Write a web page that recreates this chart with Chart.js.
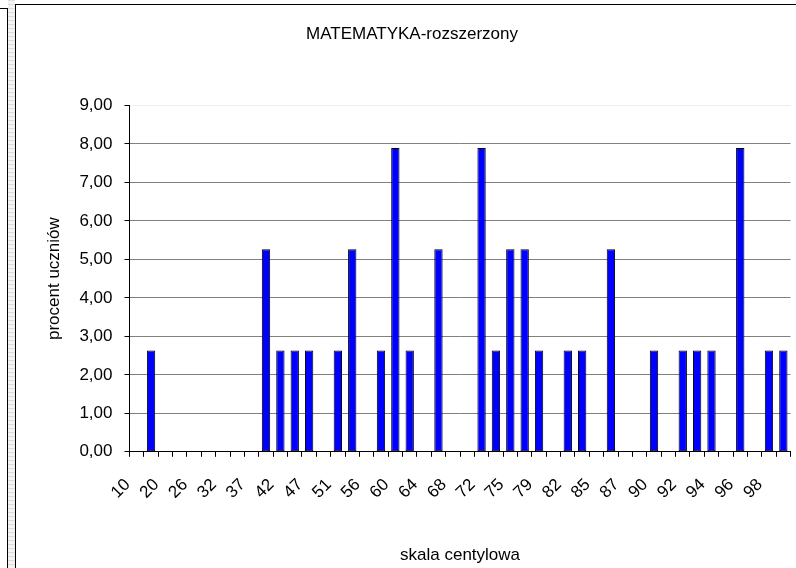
<!DOCTYPE html>
<html>
<head>
<meta charset="utf-8">
<script src="https://cdn.jsdelivr.net/npm/chart.js@4"></script>
<style>
  html, body { margin: 0; padding: 0; background: #fff; overflow: hidden; width: 796px; height: 568px; }
  #edge { position: absolute; left: 0; top: 8px; width: 7px; height: 600px; border-top: 1px solid #000; border-right: 1px solid #000; }
  #strip { position: absolute; left: 8px; top: 0; width: 7px; height: 568px;
    background: repeating-linear-gradient(#dcdcdc 0 1px, #f3f3f3 1px 4px); }
  #frame { position: absolute; left: 15px; top: 4px; width: 820px; height: 620px; border: 1px solid #000; }
  #chart { position: absolute; left: 16px; top: 5px; }
</style>
</head>
<body>
<div id="edge"></div>
<div id="strip"></div>
<div id="frame"></div>
<canvas id="chart" width="800" height="563"></canvas>
<script>
// centile scale, only every other one is printed on the axis
const centyle = ['10', '15', '20', '23', '26', '29', '32', '35', '37', '40',
                 '42', '45', '47', '49', '51', '53', '56', '58', '60', '62',
                 '64', '66', '68', '70', '72', '74', '75', '77', '79', '81',
                 '82', '84', '85', '86', '87', '89', '90', '91', '92', '93',
                 '94', '95', '96', '97', '98', '99'];

// percent of students in each centile
const procent = [0, 2.63, 0, 0, 0, 0, 0, 0, 0, 5.26,
                 2.63, 2.63, 2.63, 0, 2.63, 5.26, 0, 2.63, 7.89, 2.63,
                 0, 5.26, 0, 0, 7.89, 2.63, 5.26, 5.26, 2.63, 0,
                 2.63, 2.63, 0, 5.26, 0, 0, 2.63, 0, 2.63, 2.63,
                 2.63, 0, 7.89, 0, 2.63, 2.63];

const yTicks = [0, 1, 2, 3, 4, 5, 6, 7, 8, 9];

const font = { family: '"Liberation Sans", Arial, sans-serif', size: 17 };

new Chart(document.getElementById('chart'), {
  type: 'bar',
  data: {
    labels: centyle,
    datasets: [{
      data: procent,
      backgroundColor: '#0000ff',
      borderColor: '#000000',
      borderWidth: 1,
      borderSkipped: false,
      categoryPercentage: 1,
      barPercentage: 0.58
    }]
  },
  options: {
    responsive: false,
    animation: false,
    devicePixelRatio: 1,
    layout: { padding: { left: 12, right: 20, top: 0, bottom: 0 } },
    plugins: {
      legend: { display: false },
      tooltip: { enabled: false },
      title: {
        display: true,
        text: 'MATEMATYKA-rozszerzony',
        color: '#000',
        font: { ...font, weight: 'normal' },
        padding: { top: 19, bottom: 61 }
      }
    },
    scales: {
      x: {
        offset: true,
        grid: { display: true, drawOnChartArea: false, drawTicks: true, tickLength: 5, tickColor: '#000', offset: true },
        border: { display: true, color: '#000', width: 1 },
        ticks: {
          autoSkip: false,
          minRotation: 45,
          maxRotation: 45,
          padding: 18,
          labelOffset: -9,
          color: '#000',
          font: font,
          callback: (value, index) => index % 2 === 0 ? centyle[index] : ''
        },
        title: {
          display: true,
          text: 'skala centylowa',
          color: '#000',
          font: font,
          padding: { top: 25, bottom: 2 }
        }
      },
      y: {
        min: 0,
        max: 9,
        afterBuildTicks: (axis) => { axis.ticks = yTicks.map(v => ({ value: v })); },
        grid: {
          color: (ctx) => ctx.tick && ctx.tick.value === 9 ? '#eeeeee' : '#808080',
          lineWidth: 1,
          tickLength: 5,
          tickColor: '#000'
        },
        border: { display: true, color: '#000', width: 1 },
        ticks: {
          padding: 12,
          color: '#000',
          font: font,
          callback: (value) => value.toFixed(2).replace('.', ',')
        },
        title: {
          display: true,
          text: 'procent uczniów',
          color: '#000',
          font: font,
          padding: { top: 16, bottom: 3 }
        }
      }
    }
  }
});
</script>
</body>
</html>
